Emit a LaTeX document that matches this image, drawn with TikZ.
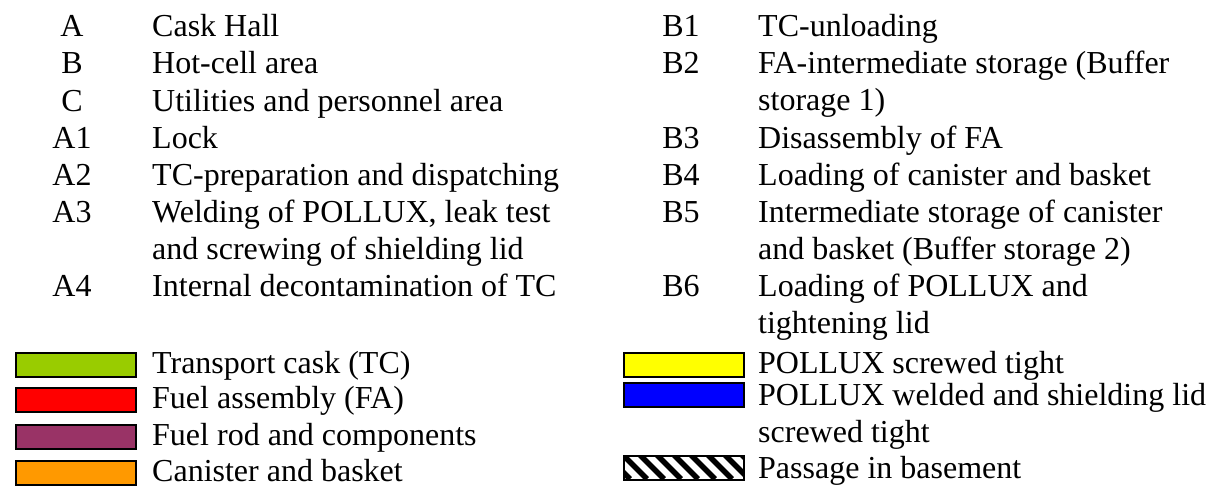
\documentclass[tikz,border=0pt]{standalone}
\usepackage{fontspec}
\setmainfont{Liberation Serif}
\usetikzlibrary{calc}
\definecolor{tcgreen}{RGB}{153,204,0}
\definecolor{fared}{RGB}{255,0,0}
\definecolor{rodpurple}{RGB}{153,51,102}
\definecolor{canorange}{RGB}{255,153,0}
\definecolor{polyellow}{RGB}{255,255,0}
\definecolor{polblue}{RGB}{0,0,255}
\newcommand{\mlines}[1]{\begin{tabular}[t]{@{}l@{}}#1\end{tabular}}
\begin{document}
\begin{tikzpicture}[x=1pt,y=-1pt,
  txt/.style={anchor=base west, inner sep=0pt, font=\fontsize{32}{37}\selectfont},
  lbl/.style={anchor=base, inner sep=0pt, font=\fontsize{32}{37}\selectfont},
  swatch/.style={draw=black, line width=1.5pt, minimum width=120pt, minimum height=24pt, inner sep=0pt, anchor=north west}]
\useasboundingbox (0,0) rectangle (1216,487);
% left column
\node[lbl] (lA)  at (72,37)  {A};
\node[txt] (tA)  at (152,37) {Cask Hall};
\node[lbl] (lB)  at (72,74)  {B};
\node[txt] (tB)  at (152,74) {Hot-cell area};
\node[lbl] (lC)  at (72,111) {C};
\node[txt] (tC)  at (152,111) {Utilities and personnel area};
\node[lbl] (lA1) at (72,148) {A1};
\node[txt] (tA1) at (152,148) {Lock};
\node[lbl] (lA2) at (72,185) {A2};
\node[txt] (tA2) at (152,185) {TC-preparation and dispatching};
\node[lbl] (lA3) at (72,222) {A3};
\node[txt] (tA3) at (152,222) {\mlines{Welding of POLLUX, leak test\\and screwing of shielding lid}};
\node[lbl] (lA4) at (72,296) {A4};
\node[txt] (tA4) at (152,296) {Internal decontamination of TC};
% right column
\node[lbl] (lB1) at (681,37)  {B1};
\node[txt] (tB1) at (758,37)  {TC-unloading};
\node[lbl] (lB2) at (681,74)  {B2};
\node[txt] (tB2) at (758,74)  {\mlines{FA-intermediate storage (Buffer\\storage 1)}};
\node[lbl] (lB3) at (681,148) {B3};
\node[txt] (tB3) at (758,148) {Disassembly of FA};
\node[lbl] (lB4) at (681,185) {B4};
\node[txt] (tB4) at (758,185) {Loading of canister and basket};
\node[lbl] (lB5) at (681,222) {B5};
\node[txt] (tB5) at (758,222) {\mlines{Intermediate storage of canister\\and basket (Buffer storage 2)}};
\node[lbl] (lB6) at (681,296) {B6};
\node[txt] (tB6) at (758,296) {\mlines{Loading of POLLUX and\\tightening lid}};
% legend left
\node[swatch, fill=tcgreen]   (sTC)  at (15,352) {};
\node[txt] (gTC)  at (152,373) {Transport cask (TC)};
\node[swatch, fill=fared]     (sFA)  at (15,387) {};
\node[txt] (gFA)  at (152,408) {Fuel assembly (FA)};
\node[swatch, fill=rodpurple] (sFR)  at (15,424) {};
\node[txt] (gFR)  at (152,445) {Fuel rod and components};
\node[swatch, fill=canorange] (sCB)  at (15,460) {};
\node[txt] (gCB)  at (152,481) {Canister and basket};
% legend right
\node[swatch, fill=polyellow] (sPS)  at (623,352) {};
\node[txt] (gPS)  at (758,373) {POLLUX screwed tight};
\node[swatch, fill=polblue]   (sPW)  at (623,382) {};
\node[txt] (gPW)  at (758,405) {\mlines{POLLUX welded and shielding lid\\screwed tight}};
\node[swatch, fill=white]     (sPB)  at (623,455) {};
\begin{scope}
  \clip (sPB.north west) rectangle (sPB.south east);
  \foreach \i in {-2,...,8} {
    \draw[line width=5.5pt] ($(sPB.north west)+(\i*17,0)$) -- ++(24,24);
  }
\end{scope}
\node[swatch] (sPBf) at (623,455) {};
\node[txt] (gPB)  at (758,478) {Passage in basement};
\end{tikzpicture}
\end{document}
